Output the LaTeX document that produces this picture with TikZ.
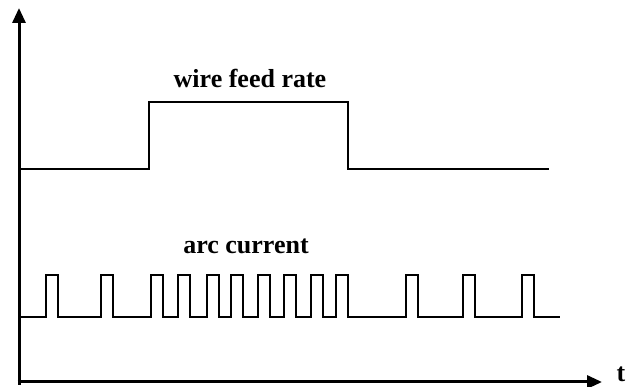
\documentclass[tikz,border=0pt]{standalone}
\usepackage{fontspec}
\setmainfont{Liberation Serif}
\usetikzlibrary{arrows.meta}
\begin{document}
\begin{tikzpicture}[x=1pt, y=-1pt, every node/.style={font=\fontsize{26}{29}\selectfont\bfseries, inner sep=0pt},
    axis/.style={line width=3pt, -{Triangle[length=15pt, width=13pt]}},
    signal/.style={line width=1.5pt, line join=miter}]
    \useasboundingbox (0,0) rectangle (638,387);
    \coordinate (O) at (19,382);
    \coordinate (Ytop) at (19,8);
    \coordinate (Xend) at (602,382);
    \draw[axis] ([yshift=-3pt]O) -- (Ytop);
    \draw[axis] ([xshift=-1.5pt]O) -- (Xend);
    \node (tlab) at (621,374) {t};
    % wire feed rate
    \coordinate (wstart) at (20,169);
    \draw[signal] (wstart) -- (149,169) -- (149,102) -- (348,102) -- (348,169) -- (549,169);
    \node (wirelab) at (250,78) {wire feed rate};
    % arc current
    \coordinate (astart) at (20,317);
    \draw[signal] (astart)
        \foreach \s in {46,101,151,178,207,231,258,284,311,336,406,463,522} {
            -- (\s,317) -- (\s,275) -- ({\s+12},275) -- ({\s+12},317)
        } -- (560,317);
    \node (arclab) at (246,246) {arc current};
\end{tikzpicture}
\end{document}
